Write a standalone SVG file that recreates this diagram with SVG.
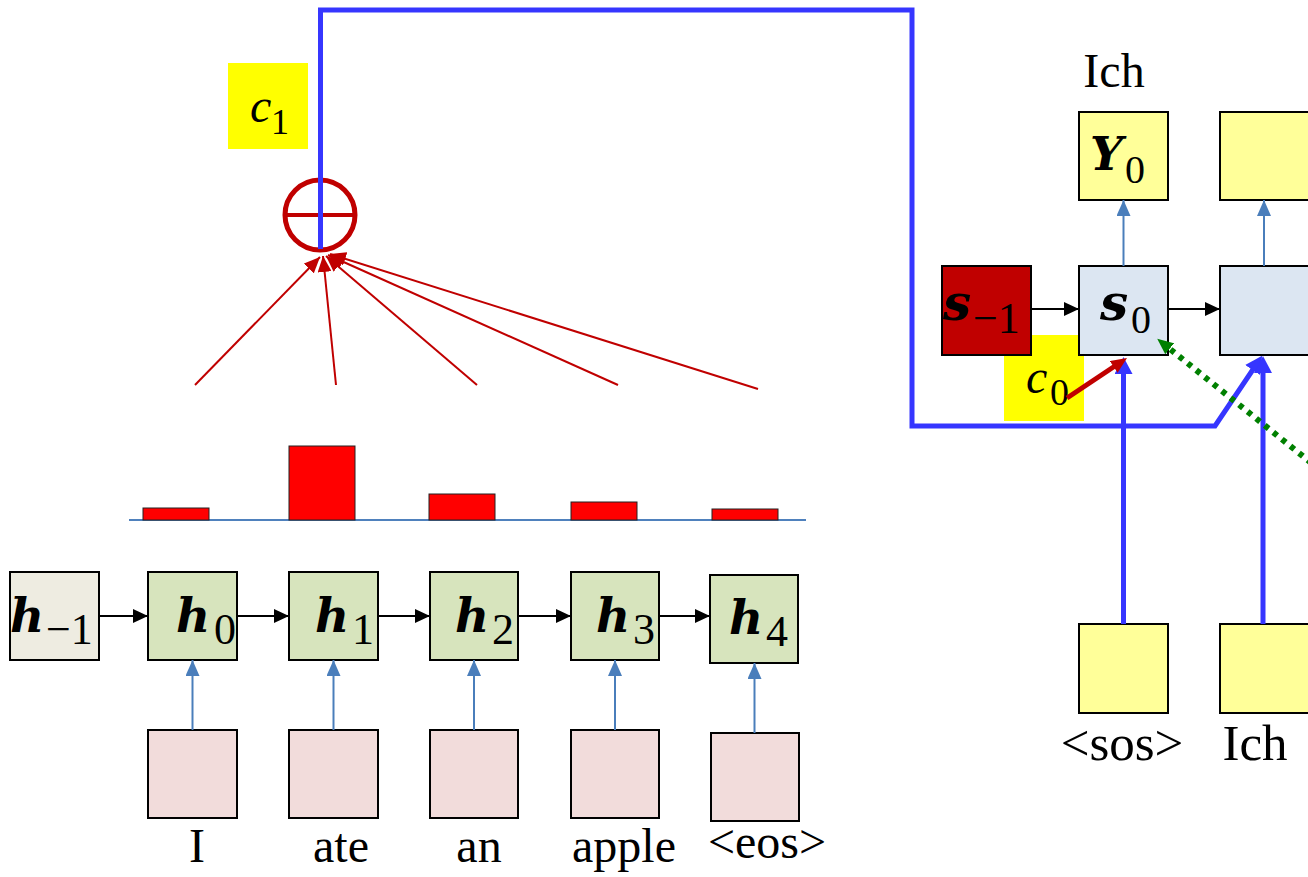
<svg xmlns="http://www.w3.org/2000/svg" width="1308" height="877" viewBox="0 0 1308 877">
<defs>
<style>
.box{stroke:#000;stroke-width:2}
.hbeige{fill:#eeece1}
.hgreen{fill:#d7e4bd}
.pink{fill:#f2dcdb}
.ylw{fill:#ffff99}
.sblue{fill:#dce6f2}
.sred{fill:#c00000}
.hl{fill:#ffff00}
.bar{fill:#ff0000;stroke:#222;stroke-width:1}
.mathb{font-family:"DejaVu Serif",serif;font-weight:bold;font-style:italic;fill:#000}
.mathi{font-family:"Liberation Serif","Times New Roman",serif;font-style:italic;fill:#000}
.sub{font-family:"Liberation Serif","Times New Roman",serif;font-style:normal;font-weight:normal;fill:#000}
.lbl{font-family:"Liberation Serif","Times New Roman",serif;fill:#000;text-anchor:middle}
.blk{stroke:#000;stroke-width:2;fill:none;marker-end:url(#aBlack)}
.thin{stroke:#4a7ebb;stroke-width:2;fill:none;marker-end:url(#aSteel)}
.thick{stroke:#3636ff;stroke-width:5;fill:none;marker-end:url(#aBlue)}
.fan{stroke:#c00000;stroke-width:2;fill:none;marker-end:url(#aFan)}
</style>
<marker id="aBlack" markerUnits="userSpaceOnUse" markerWidth="15" markerHeight="14" refX="15" refY="7" orient="auto"><path d="M0,0 L15,7 L0,14 z" fill="#000"/></marker>
<marker id="aSteel" markerUnits="userSpaceOnUse" markerWidth="16" markerHeight="14" refX="16" refY="7" orient="auto"><path d="M0,0 L16,7 L0,14 z" fill="#4a7ebb"/></marker>
<marker id="aBlue" markerUnits="userSpaceOnUse" markerWidth="17" markerHeight="18" refX="6" refY="9" orient="auto"><path d="M0,0 L17,9 L0,18 z" fill="#3636ff"/></marker>
<marker id="aFan" markerUnits="userSpaceOnUse" markerWidth="16" markerHeight="14" refX="16" refY="7" orient="auto"><path d="M0,0 L16,7 L0,14 z" fill="#c00000"/></marker>
<marker id="aRed" markerUnits="userSpaceOnUse" markerWidth="16" markerHeight="14" refX="6" refY="7" orient="auto"><path d="M0,0 L16,7 L0,14 z" fill="#c00000"/></marker>
<marker id="aGreen" markerUnits="userSpaceOnUse" markerWidth="16" markerHeight="14" refX="6" refY="7" orient="auto"><path d="M0,0 L16,7 L0,14 z" fill="#008000"/></marker>
</defs>
<rect width="1308" height="877" fill="#fff"/>

<g id="attention-weights">
<line x1="129" y1="520" x2="806" y2="520" stroke="#4f81bd" stroke-width="2"/>
<rect class="bar" x="143" y="508" width="66" height="12"/>
<rect class="bar" x="289" y="446" width="66" height="74"/>
<rect class="bar" x="429" y="494" width="66" height="26"/>
<rect class="bar" x="571" y="502" width="66" height="18"/>
<rect class="bar" x="712" y="509" width="66" height="11"/>
</g>

<g id="c1">
<rect class="hl" x="228" y="63" width="80" height="86"/>
<text x="250" y="122" class="mathi" font-size="48">c<tspan class="sub" font-size="36" x="271" y="134">1</tspan></text>
</g>

<g id="c0">
<rect class="hl" x="1004" y="335" width="80" height="86"/>
<text x="1026" y="393" class="mathi" font-size="48">c<tspan class="sub" font-size="38" x="1050" y="405">0</tspan></text>
</g>

<g id="h-1"><rect class="box hbeige" x="10" y="572" width="89" height="88"/><text x="10" y="632" class="mathb" font-size="47">h<tspan class="sub" font-size="44" x="46" y="644">−1</tspan></text></g>
<g id="h0"><rect class="box hgreen" x="148" y="572" width="89" height="88"/><text x="176" y="632" class="mathb" font-size="47">h<tspan class="sub" font-size="44" x="214" y="644">0</tspan></text></g>
<g id="h1"><rect class="box hgreen" x="289" y="572" width="89" height="88"/><text x="315" y="632" class="mathb" font-size="47">h<tspan class="sub" font-size="44" x="352" y="644">1</tspan></text></g>
<g id="h2"><rect class="box hgreen" x="430" y="572" width="88" height="88"/><text x="455" y="632" class="mathb" font-size="47">h<tspan class="sub" font-size="44" x="492" y="644">2</tspan></text></g>
<g id="h3"><rect class="box hgreen" x="571" y="572" width="88" height="88"/><text x="596" y="632" class="mathb" font-size="47">h<tspan class="sub" font-size="44" x="633" y="644">3</tspan></text></g>
<g id="h4"><rect class="box hgreen" x="710" y="575" width="88" height="88"/><text x="729" y="634" class="mathb" font-size="47">h<tspan class="sub" font-size="44" x="766" y="646">4</tspan></text></g>

<g id="x-I"><rect class="box pink" x="148" y="730" width="89" height="88"/><text x="197" y="862" class="lbl" font-size="48">I</text></g>
<g id="x-ate"><rect class="box pink" x="289" y="730" width="89" height="88"/><text x="341" y="862" class="lbl" font-size="48">ate</text></g>
<g id="x-an"><rect class="box pink" x="430" y="730" width="88" height="88"/><text x="479" y="862" class="lbl" font-size="48">an</text></g>
<g id="x-apple"><rect class="box pink" x="571" y="730" width="88" height="88"/><text x="624" y="862" class="lbl" font-size="48">apple</text></g>
<g id="x-eos"><rect class="box pink" x="711" y="733" width="88" height="88"/><text x="767" y="858" class="lbl" font-size="48">&lt;eos&gt;</text></g>

<g id="label-ich-out"><text x="1114" y="87" class="lbl" font-size="48">Ich</text></g>
<g id="Y0"><rect class="box ylw" x="1079" y="112" width="89" height="88"/><text x="1090" y="170" class="mathb" font-size="46">Y<tspan class="sub" font-size="40" x="1125" y="183">0</tspan></text></g>
<g id="Y1"><rect class="box ylw" x="1220" y="112" width="100" height="88"/></g>
<g id="s-1"><rect class="box sred" x="942" y="266" width="89" height="89"/><text x="943" y="320" class="mathb" font-size="50">s<tspan class="sub" font-size="44" x="973" y="333">−1</tspan></text></g>
<g id="s0"><rect class="box sblue" x="1079" y="266" width="89" height="89"/><text x="1100" y="320" class="mathb" font-size="50">s<tspan class="sub" font-size="40" x="1131" y="333">0</tspan></text></g>
<g id="s1"><rect class="box sblue" x="1220" y="266" width="100" height="89"/></g>
<g id="in-sos"><rect class="box ylw" x="1079" y="624" width="89" height="89"/><text x="1122" y="760" class="lbl" font-size="51">&lt;sos&gt;</text></g>
<g id="in-ich"><rect class="box ylw" x="1220" y="624" width="100" height="89"/><text x="1255" y="760" class="lbl" font-size="51">Ich</text></g>

<g id="connectors">
<line class="blk" x1="99" y1="616" x2="148" y2="616"/>
<line class="blk" x1="237" y1="616" x2="289" y2="616"/>
<line class="blk" x1="378" y1="616" x2="430" y2="616"/>
<line class="blk" x1="518" y1="616" x2="571" y2="616"/>
<line class="blk" x1="659" y1="616" x2="710" y2="616"/>
<line class="thin" x1="192.5" y1="730" x2="192.5" y2="660"/>
<line class="thin" x1="333.5" y1="730" x2="333.5" y2="660"/>
<line class="thin" x1="474" y1="730" x2="474" y2="660"/>
<line class="thin" x1="615" y1="730" x2="615" y2="660"/>
<line class="thin" x1="754.5" y1="733" x2="754.5" y2="663"/>
<line class="blk" x1="1031" y1="309" x2="1079" y2="309"/>
<line class="blk" x1="1168" y1="309" x2="1220" y2="309"/>
<line class="thin" x1="1123.5" y1="266" x2="1123.5" y2="200"/>
<line class="thin" x1="1264" y1="266" x2="1264" y2="200"/>
<line class="fan" x1="195" y1="385" x2="320" y2="257"/>
<line class="fan" x1="336" y1="385" x2="323" y2="256"/>
<line class="fan" x1="477" y1="385" x2="326" y2="256"/>
<line class="fan" x1="618" y1="385" x2="328" y2="255"/>
<line class="fan" x1="758" y1="389" x2="330" y2="254"/>
<circle cx="320" cy="215" r="35" fill="none" stroke="#c00000" stroke-width="5"/>
<line x1="285" y1="215" x2="355" y2="215" stroke="#c00000" stroke-width="4"/>
<path class="thick" d="M320.5 249 V10 H912 V426 H1215 L1256 365"/>
<line class="thick" x1="1123.5" y1="624" x2="1123.5" y2="368"/>
<line class="thick" x1="1263" y1="624" x2="1263" y2="367"/>
<line x1="1067" y1="398" x2="1118.7" y2="363.5" stroke="#c00000" stroke-width="5" marker-end="url(#aRed)"/>
<line x1="1320" y1="470" x2="1165" y2="345" stroke="#008000" stroke-width="6" stroke-dasharray="5 6" marker-end="url(#aGreen)"/>
</g>
</svg>
